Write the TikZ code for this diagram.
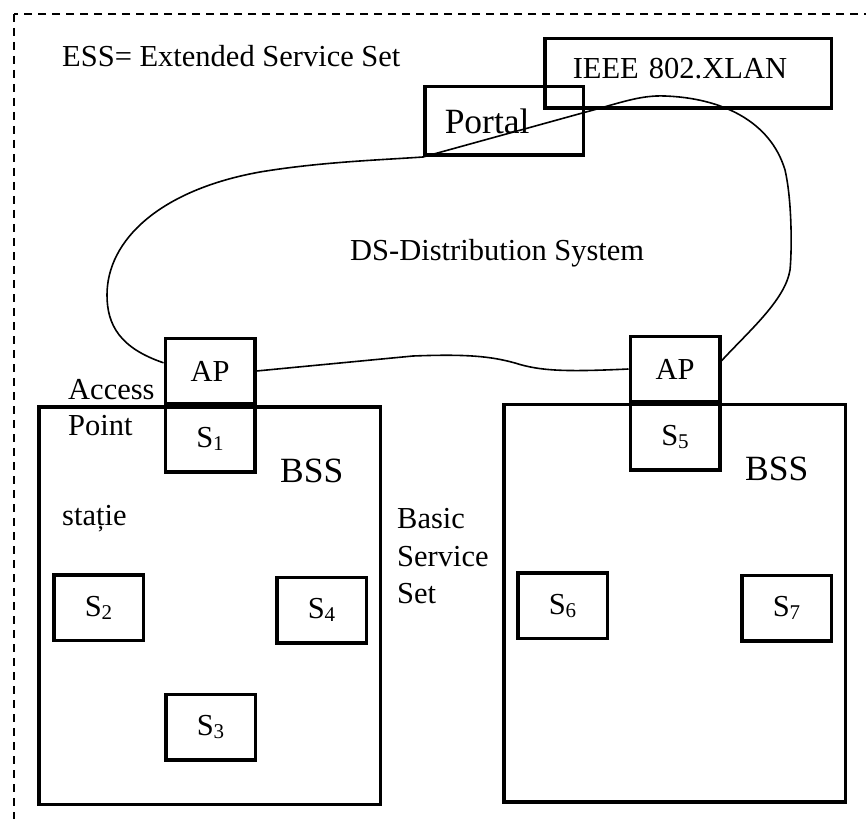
\documentclass[tikz,border=0pt]{standalone}
\usepackage{fontspec}
\setmainfont{Liberation Serif}
\newcommand{\stn}[1]{S\raisebox{-3pt}{\fontsize{21}{21}\selectfont #1}}

\begin{document}
\begin{tikzpicture}[x=1pt,y=-1pt]
\tikzstyle{every node}=[font=\fontsize{30.5}{36}\selectfont, inner sep=0pt]
\tikzstyle{box}=[draw, line width=3.5pt, rectangle, minimum width=89.5pt, minimum height=65.5pt]
\tikzstyle{bss}=[draw, line width=3.5pt, rectangle, minimum width=341.5pt, minimum height=397.5pt]
\tikzstyle{txt}=[anchor=base west]
\tikzstyle{big}=[font=\fontsize{35.5}{40}\selectfont]
\tikzstyle{dsline}=[line width=1.6pt]
\useasboundingbox (0,0) rectangle (866,818);
\draw[dash pattern=on 8pt off 6pt, line width=1.3pt] (14,14) rectangle (880,830);
% two basic service sets
\node (bss1) [bss] at (209.5,605.5) {};
\node (bss2) [bss] at (674.5,603) {};
\node (ap1) [box] at (210,371) {AP};
\node (s1) [box] at (210,439) {\stn{1}};
\node (ap2) [box] at (675,369) {AP};
\node (s5) [box] at (675,437) {\stn{5}};
\node (s2) [box] at (98.5,607.5) {\stn{2}};
\node (s4) [box] at (321.5,610) {\stn{4}};
\node (s3) [box] at (210.5,727) {\stn{3}};
\node (s6) [box] at (562.5,605.5) {\stn{6}};
\node (s7) [box] at (786.5,608) {\stn{7}};
% portal and lan
\node (lan) [box, minimum width=286.5pt, minimum height=69.5pt, inner xsep=28pt,
  text width=230.5pt, align=left, text depth=10pt] at (688,73.5) {IEEE 802.XLAN};
\node (portal) [box, big, minimum width=158.5pt, minimum height=68.5pt, inner xsep=20pt,
  text width=118.5pt, align=left] at (504,121) {Portal};
% labels
\node (ess) [txt] at (62,67) {ESS= Extended Service Set};
\node (ds) [txt] at (350,260) {DS-Distribution System};
\node (bsslbl1) [txt, big] at (280,482) {BSS};
\node (bsslbl2) [txt, big] at (745,480) {BSS};
\node (acc1) [txt] at (68,399) {Access};
\node (acc2) [txt] at (68,435) {Point};
\node (sta) [txt] at (62,525) {stație};
\node (bas1) [txt] at (397,528) {Basic};
\node (bas2) [txt] at (397,566) {Service};
\node (bas3) [txt] at (397,603) {Set};
% distribution system
\draw[dsline] (ap1.170) .. controls (120,348) and (107,325) .. (107,295)
  .. controls (107,240) and (160,190) .. (260,172)
  .. controls (320,162) and (380,160) .. (portal.south west)
  -- (586,112) .. controls (620,103) and (640,95) .. (665,96)
  .. controls (720,98) and (770,120) .. (785,170)
  .. controls (792,200) and (792,250) .. (790,270)
  .. controls (785,300) and (750,330) .. (ap2.10);
\draw[dsline] (ap1.east) -- (413,356) .. controls (465,354) and (490,356) .. (515,363)
  .. controls (540,371) and (565,372) .. (ap2.west);
\end{tikzpicture}
\end{document}
